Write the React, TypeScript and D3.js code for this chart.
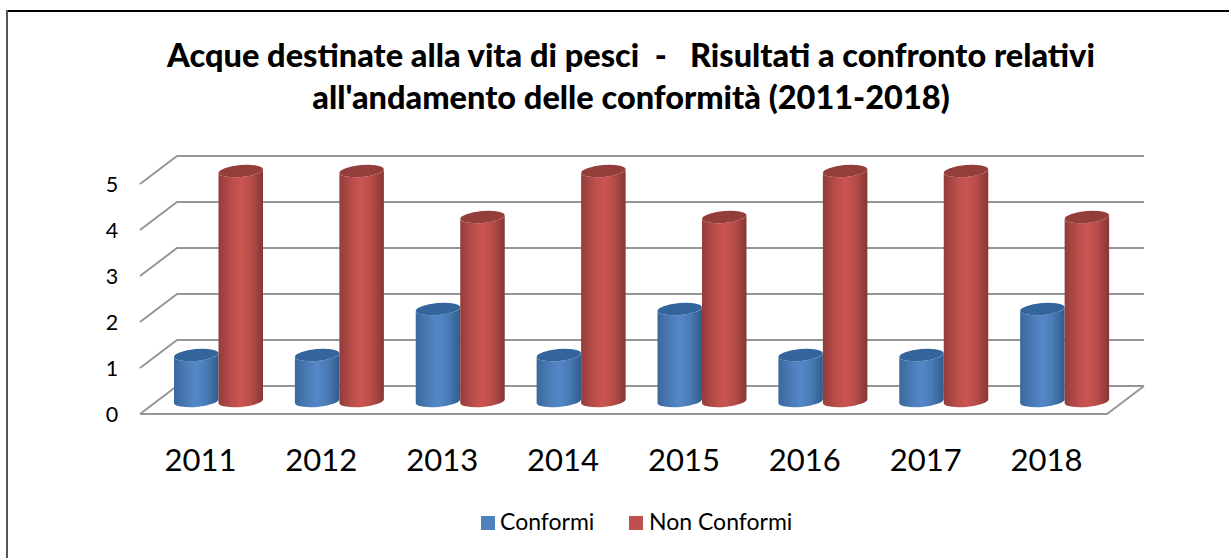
import { useEffect, useRef } from "react"
import * as d3 from "d3"

const years = ["2011", "2012", "2013", "2014", "2015", "2016", "2017", "2018"]
const conformi = [1, 1, 2, 1, 2, 1, 1, 2]
const nonConformi = [5, 5, 4, 5, 4, 5, 5, 4]
const seriesNames = ["Conformi", "Non Conformi"]
const seriesColors = ["#4f81bd", "#c0504d"]
const yTicks = [0, 1, 2, 3, 4, 5]
const titleLines = [
  "Acque destinate alla vita di pesci  -   Risultati a confronto relativi",
  "all'andamento delle conformità (2011-2018)",
]

const WIDTH = 1229
const HEIGHT = 558
// shift between front and back edge of the 3d floor
const DX = 37
const DY = -28
const FONT = "Lato, Carlito, Calibri, sans-serif"

const App = () => {
  const ref = useRef<SVGSVGElement>(null)

  useEffect(() => {
    const svg = d3.select(ref.current)
    svg.selectAll("*").remove()

    svg.append("rect").attr("width", WIDTH).attr("height", HEIGHT).attr("fill", "#fff")

    const x = d3.scaleBand().domain(years).range([140, 1107])
    const y = d3.scaleLinear().domain([0, 5]).range([414, 184])
    const sub = d3.scaleBand().domain(seriesNames).range([0, 89])

    // cylinder shading
    const defs = svg.append("defs")
    const shades = [
      ["#3a689e", "#4c7db8", "#5388c8", "#4a7cb6", "#315c8c"],
      ["#933c3a", "#bb4e4b", "#cb5551", "#b84d4a", "#873735"],
    ]
    shades.forEach((stops, i) => {
      const grad = defs.append("linearGradient").attr("id", `body-${i}`)
      ;[0, 0.3, 0.5, 0.72, 1].forEach((o, j) => {
        grad.append("stop").attr("offset", o).attr("stop-color", stops[j])
      })
    })

    // outer border, only top and left are visible
    svg.append("line").attr("x1", 6).attr("x2", WIDTH).attr("y1", 11).attr("y2", 11)
      .attr("stroke", "#000").attr("stroke-width", 2)
    svg.append("line").attr("x1", 7).attr("x2", 7).attr("y1", 10).attr("y2", HEIGHT)
      .attr("stroke", "#555").attr("stroke-width", 2)

    // title
    titleLines.forEach((line, i) => {
      svg.append("text")
        .attr("x", 631)
        .attr("y", 67 + i * 42)
        .attr("text-anchor", "middle")
        .attr("font-family", FONT)
        .attr("font-weight", 900)
        .attr("font-size", 32.5)
        .attr("fill", "#000")
        .style("white-space", "pre")
        .text(line)
    })

    // back wall, side wall and floor
    const grid = svg.append("g").attr("fill", "none").attr("stroke", "#969696").attr("stroke-width", 2)
    const x0 = x.range()[0]
    const x1 = x.range()[1]
    yTicks.forEach((t) => {
      const line = d3.line()
      grid.append("path").attr("d", line([
        [x0, y(t)],
        [x0 + DX, y(t) + DY],
        [x1 + DX, y(t) + DY],
      ]))
    })
    grid.append("path").attr("d", d3.line()([
      [x0, y(0)],
      [x1, y(0)],
      [x1 + DX, y(0) + DY],
    ]))

    // y labels
    yTicks.forEach((t) => {
      svg.append("text")
        .attr("x", 112)
        .attr("y", y(t) + 8)
        .attr("text-anchor", "middle")
        .attr("font-family", FONT)
        .attr("font-size", 21.5)
        .attr("fill", "#000")
        .text(t)
    })

    // x labels
    years.forEach((year) => {
      svg.append("text")
        .attr("x", (x(year) as number) + x.bandwidth() / 2)
        .attr("y", 471)
        .attr("text-anchor", "middle")
        .attr("font-family", FONT)
        .attr("font-size", 31)
        .attr("fill", "#000")
        .text(year)
    })

    // cylinders
    const rot = -5
    const ry = 6
    const tilt = Math.sin((-rot * Math.PI) / 180)
    const drawCylinder = (year: string, s: number, value: number) => {
      const rx = sub.bandwidth() / 2
      const left = (x(year) as number) + 34 + (sub(seriesNames[s]) as number)
      const right = left + sub.bandwidth()
      const cx = (left + right) / 2
      const bottom = y(0) - 13
      const top = y(value) - 13
      const dy = rx * tilt
      const g = svg.append("g")
      g.append("path")
        .attr("d", `M${left},${top + dy} A${rx},${ry} ${rot} 0 0 ${right},${top - dy} L${right},${bottom - dy} A${rx},${ry} ${rot} 0 1 ${left},${bottom + dy} Z`)
        .attr("fill", `url(#body-${s})`)
      g.append("ellipse")
        .attr("rx", rx)
        .attr("ry", ry)
        .attr("transform", `translate(${cx},${top}) rotate(${rot})`)
        .attr("fill", s === 0 ? "#33649b" : "#943e3c")
    }
    years.forEach((year, i) => {
      drawCylinder(year, 0, conformi[i])
      drawCylinder(year, 1, nonConformi[i])
    })

    // legend
    const legendX = [481, 629]
    const legendTextX = [500, 649]
    seriesNames.forEach((name, i) => {
      svg.append("rect")
        .attr("x", legendX[i])
        .attr("y", 516)
        .attr("width", 14)
        .attr("height", 14)
        .attr("fill", seriesColors[i])
      svg.append("text")
        .attr("x", legendTextX[i])
        .attr("y", 530)
        .attr("font-family", FONT)
        .attr("font-size", 23)
        .attr("fill", "#000")
        .text(name)
    })
  }, [])

  return <svg ref={ref} width={WIDTH} height={HEIGHT} style={{ position: "absolute", left: 0, top: 0 }} />
}

export default App
